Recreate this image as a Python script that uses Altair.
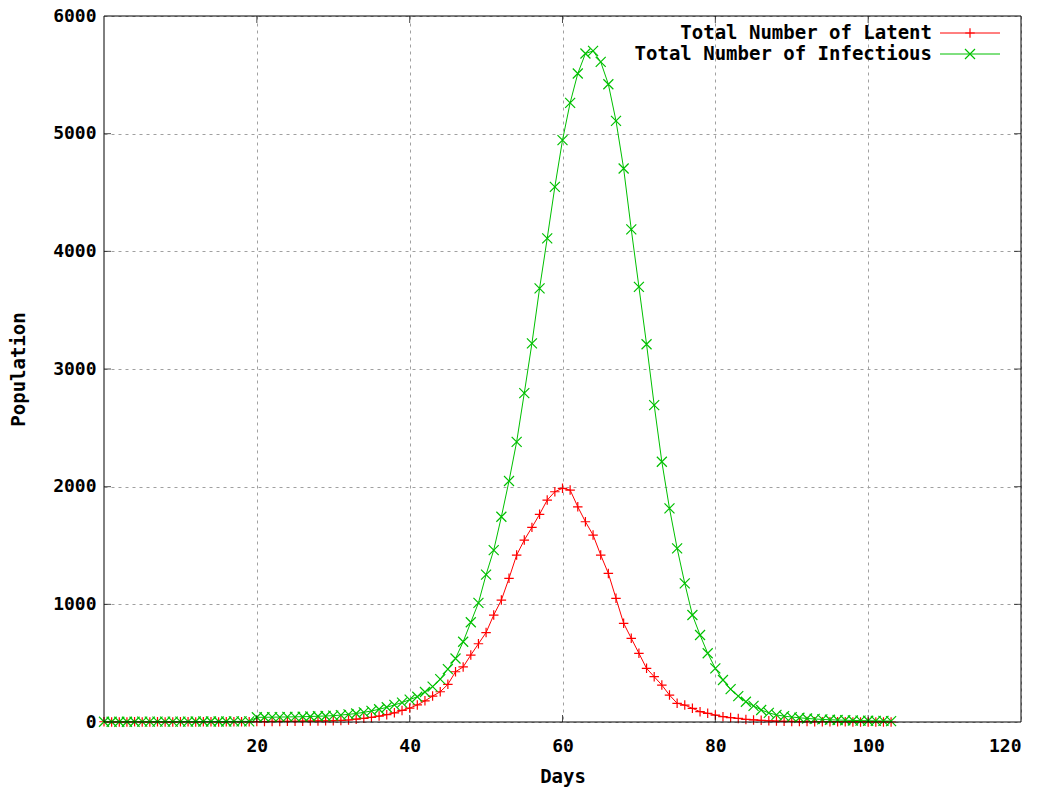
import altair as alt
import pandas as pd

# ---------------- data ----------------
days = list(range(0, 104))

latent = [
    2, 1, 1, 1, 2, 1, 1, 2, 1, 1, 2, 2, 1, 2, 2, 1, 2, 3, 2, 3,
    4, 4, 5, 5, 6, 6, 7, 8, 9, 10,
    11, 13, 17, 24, 31, 40, 50, 62, 78, 98,
    118, 145, 180, 220, 257, 320, 427, 468, 569, 665,
    760, 909, 1036, 1221, 1419, 1546, 1654, 1765, 1886, 1957,
    1986, 1971, 1829, 1702, 1589, 1419, 1263, 1051, 839, 711,
    584, 456, 385, 314, 229, 159, 144, 116, 88, 74,
    59, 45, 38, 30, 22, 18, 14, 10, 8, 6,
    5, 4, 4, 3, 3, 2, 2, 2, 1, 1, 1, 1, 1, 0,
]

infectious = [
    2, 2, 2, 2, 2, 3, 3, 3, 3, 3, 3, 3, 4, 4, 4, 4, 4, 5, 5, 5,
    40, 40, 41, 42, 43, 44, 45, 47, 49, 51,
    54, 59, 65, 72, 82, 94, 108, 125, 145, 165,
    190, 215, 255, 300, 365, 450, 540, 682, 848, 1012,
    1252, 1461, 1744, 2048, 2381, 2795, 3218, 3685, 4110, 4548,
    4945, 5262, 5511, 5681, 5703, 5610, 5420, 5109, 4704, 4186,
    3698, 3210, 2693, 2212, 1816, 1476, 1178, 909, 739, 584,
    456, 357, 279, 220, 172, 137, 102, 78, 60, 50,
    42, 36, 30, 26, 22, 19, 17, 15, 13, 12, 11, 10, 9, 8,
]

series_names = ["Total Number of Latent", "Total Number of Infectious"]
series_colors = ["#ff0000", "#00c000"]
x_ticks = [20, 40, 60, 80, 100, 120]
y_ticks = [0, 1000, 2000, 3000, 4000, 5000, 6000]

# ---------------- style ----------------
W, H = 917, 706
FONT = "DejaVu Sans Mono"
FS = 18
FT = 19
PLUS = "M-1,0L1,0M0,-1L0,1"
CROSS = "M-1,-1L1,1M-1,1L1,-1"
shapes = [PLUS, CROSS]
sizes = [90, 100]

xs = alt.Scale(domain=[0, 120], nice=False, zero=False)
ys = alt.Scale(domain=[0, 6000], nice=False)

xaxis = alt.Axis(
    values=x_ticks, grid=True, gridColor="#a0a0a0", gridDash=[3, 4],
    ticks=False, domain=False, format="d",
    labelFont=FONT, labelFontWeight="bold", labelFontSize=FS, labelColor="black",
    labelPadding=15, title="Days", titleFont=FONT, titleFontWeight="bold",
    titleFontSize=FT, titleColor="black", titlePadding=12,
)
yaxis = alt.Axis(
    values=y_ticks, grid=True, gridColor="#a0a0a0", gridDash=[3, 4],
    ticks=False, domain=False, format="d",
    labelFont=FONT, labelFontWeight="bold", labelFontSize=FS, labelColor="black",
    labelPadding=8, title="Population", titleFont=FONT, titleFontWeight="bold",
    titleFontSize=FT, titleColor="black", titlePadding=24,
)

layers = []
dfs = [pd.DataFrame({"day": days, "value": latent}),
       pd.DataFrame({"day": days, "value": infectious})]
for i, df in enumerate(dfs):
    enc = dict(
        x=alt.X("day:Q", scale=xs, axis=xaxis),
        y=alt.Y("value:Q", scale=ys, axis=yaxis),
    )
    layers.append(alt.Chart(df).mark_line(color=series_colors[i], strokeWidth=1).encode(**enc))
    layers.append(
        alt.Chart(df).mark_point(shape=shapes[i], color=series_colors[i], filled=False,
                                 size=sizes[i], strokeWidth=1.2, opacity=1).encode(**enc)
    )

# inward ticks (mirrored)
xt = pd.DataFrame({"t": x_ticks[:-1]})
yt = pd.DataFrame({"t": y_ticks[1:-1]})
TL = 7
for yv in [H - TL / 2, TL / 2]:
    layers.append(
        alt.Chart(xt).mark_tick(orient="vertical", size=TL, thickness=1, color="black")
        .encode(x=alt.X("t:Q", scale=xs), y=alt.value(yv))
    )
for xv in [TL / 2, W - TL / 2]:
    layers.append(
        alt.Chart(yt).mark_tick(orient="horizontal", size=TL, thickness=1, color="black")
        .encode(y=alt.Y("t:Q", scale=ys), x=alt.value(xv))
    )

# legend (gnuplot style, inside top-right)
for i, name in enumerate(series_names):
    ly = 17 + 21 * i
    ldf = pd.DataFrame({"label": [name]})
    layers.append(
        alt.Chart(ldf).mark_text(align="right", baseline="middle", font=FONT,
                                 fontWeight="bold", fontSize=FT, color="black")
        .encode(text="label:N", x=alt.value(828), y=alt.value(ly))
    )
    layers.append(
        alt.Chart(ldf).mark_rule(color=series_colors[i], strokeWidth=1)
        .encode(x=alt.value(836), x2=alt.value(896), y=alt.value(ly))
    )
    layers.append(
        alt.Chart(ldf).mark_point(shape=shapes[i], color=series_colors[i], filled=False,
                                  size=sizes[i], strokeWidth=1.2, opacity=1)
        .encode(x=alt.value(866), y=alt.value(ly))
    )

# border frame
layers.append(
    alt.Chart(pd.DataFrame({"a": [0]})).mark_rect(fillOpacity=0, stroke="black", strokeWidth=1)
    .encode(x=alt.value(0), x2=alt.value(W), y=alt.value(0), y2=alt.value(H))
)

chart = alt.layer(*layers).properties(
    width=W, height=H,
    autosize=alt.AutoSizeParams(type="none"),
    padding={"left": 96, "top": 8, "right": 18, "bottom": 66},
    background="white",
).configure_view(stroke=None)

chart.save("out.html", embed_options={"renderer": "svg", "actions": False})
